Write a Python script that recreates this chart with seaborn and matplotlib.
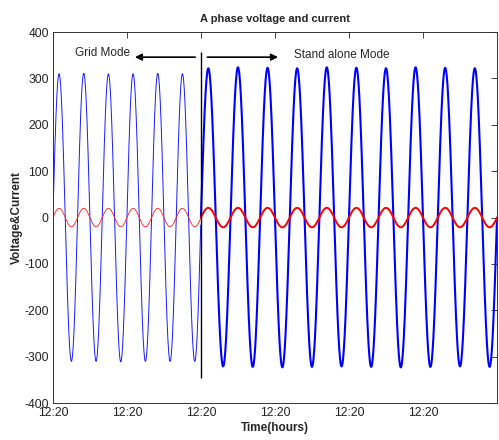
import numpy as np
import pandas as pd
import matplotlib
matplotlib.use('Agg')
import matplotlib.pyplot as plt
import seaborn as sns

# values
x_ticks = [0, 1, 2, 3, 4, 5]
x_tick_labels = ['12:20'] * 6
y_ticks = [-400, -300, -200, -100, 0, 100, 200, 300, 400]

switch_time = 2.0          # grid -> stand alone
end_time = 6.0
grid_cycles_per_unit = 3.0
stand_cycles_per_unit = 2.5

# peak of every half cycle (voltage), grid mode then stand alone mode
grid_v_peaks = [310, -310, 311, -310, 310, -311, 310, -310, 311, -310, 310, -310]
stand_v_peaks = [322, -321, 324, -322, 323, -323, 322, -322, 324, -321,
                 323, -322, 322, -323, 324, -322, 323, -321, 322, -322]
# current half-cycle peaks
grid_i_peaks = [20, -20] * 6
stand_i_peaks = [21, -21] * 10

vline_span = [-345, 357]


def half_cycle_wave(t0, cycles_per_unit, peaks, pts=60):
    h = 0.5 / cycles_per_unit
    ts, vs = [], []
    for k, p in enumerate(peaks):
        t = np.linspace(0, h, pts, endpoint=False)
        ts.append(t0 + k * h + t)
        vs.append(abs(p) * np.sign(p) * np.sin(np.pi * t / h))
    return np.concatenate(ts), np.concatenate(vs)


tg, vg = half_cycle_wave(0.0, grid_cycles_per_unit, grid_v_peaks)
ts_, vs_ = half_cycle_wave(switch_time, stand_cycles_per_unit, stand_v_peaks)
_, ig = half_cycle_wave(0.0, grid_cycles_per_unit, grid_i_peaks)
_, is_ = half_cycle_wave(switch_time, stand_cycles_per_unit, stand_i_peaks)

df_grid = pd.DataFrame({'t': tg, 'v': vg, 'i': ig})
df_stand = pd.DataFrame({'t': np.append(ts_, end_time), 'v': np.append(vs_, 0), 'i': np.append(is_, 0)})

sns.set_style('white')
plt.rcParams['font.family'] = ['Liberation Sans', 'DejaVu Sans']
plt.rcParams['axes.unicode_minus'] = False

fig = plt.figure(figsize=(4.99, 4.4), dpi=100)
ax = fig.add_axes([0.106, 0.084, 0.89, 0.843])

sns.lineplot(data=df_grid, x='t', y='v', ax=ax, color='#1a1aff', lw=0.7, sort=False, estimator=None)
sns.lineplot(data=df_stand, x='t', y='v', ax=ax, color='#0000ff', lw=1.5, sort=False, estimator=None)
sns.lineplot(data=df_grid, x='t', y='i', ax=ax, color='#ff2020', lw=0.6, sort=False, estimator=None)
sns.lineplot(data=df_stand, x='t', y='i', ax=ax, color='#ff0000', lw=1.4, sort=False, estimator=None)

ax.vlines(switch_time, vline_span[0], vline_span[1], color='k', lw=1.0)

ax.annotate('', xy=(1.07, 346), xytext=(1.96, 346),
            arrowprops=dict(arrowstyle='-|>', color='k', lw=1.2, mutation_scale=10))
ax.annotate('', xy=(3.08, 346), xytext=(2.05, 346),
            arrowprops=dict(arrowstyle='-|>', color='k', lw=1.2, mutation_scale=10))
ax.text(1.04, 354, 'Grid Mode', ha='right', va='center', fontsize=8.5)
ax.text(3.26, 350, 'Stand alone Mode', ha='left', va='center', fontsize=8.5)

ax.set_xlim(0, end_time)
ax.set_ylim(-400, 400)
ax.set_xticks(x_ticks)
ax.set_xticklabels(x_tick_labels)
ax.set_yticks(y_ticks)
ax.tick_params(direction='in', length=4, width=0.6, top=True, right=True,
               labelsize=8.7, pad=3, colors='#222222')
for s in ax.spines.values():
    s.set_linewidth(0.7)
    s.set_color('#333333')

ax.set_title('A phase voltage and current', fontsize=8, fontweight='bold', pad=7)
ax.set_xlabel('Time(hours)', fontsize=8.5, fontweight='bold', labelpad=2)
ax.set_ylabel('Voltage&Current', fontsize=8.5, fontweight='bold', labelpad=1)

fig.savefig('out.png', dpi=100)
